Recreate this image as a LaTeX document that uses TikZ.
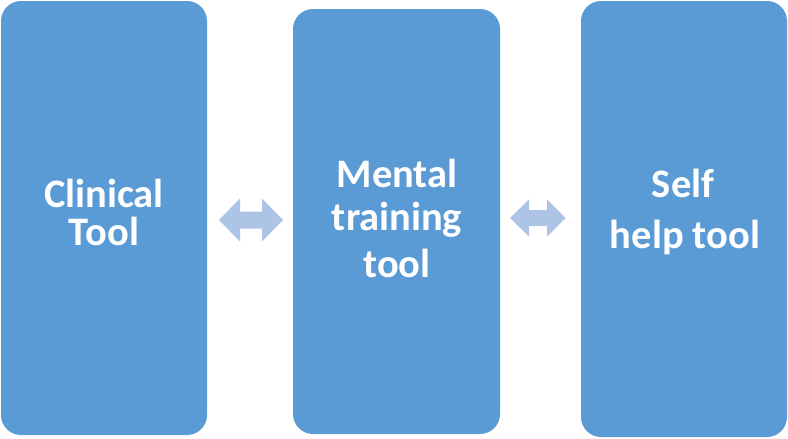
\documentclass[tikz,border=0pt]{standalone}
\usepackage{fontspec}
\setmainfont{Carlito}
\definecolor{boxblue}{HTML}{5B9BD5}
\definecolor{arrowblue}{HTML}{ADC4E6}
\begin{document}
\begin{tikzpicture}[x=1pt,y=-1pt,
  panel/.style={fill=boxblue, draw=none, rounded corners=20pt},
  lbl/.style={anchor=base, text=white, font=\fontsize{40.5}{46}\selectfont\bfseries, inner sep=0pt},
  dblarrow/.style={fill=arrowblue, draw=none}]
\useasboundingbox (0,0) rectangle (788,439);
\fill[white] (0,0) rectangle (788,439);
% boxes
\path[panel] (1,1) rectangle (207,435);
\path[panel] (293,9) rectangle (500,434);
\path[panel] (581,1) rectangle (787,437);
% labels
\node[lbl] (t1a) at (104,207) {Clinical};
\node[lbl] (t1b) at (104,245) {Tool};
\node[lbl] (t2a) at (397,187) {Mental};
\node[lbl] (t2b) at (397,230) {training};
\node[lbl] (t2c) at (397,277) {tool};
\node[lbl] (t3a) at (683,197) {Self};
\node[lbl] (t3b) at (685,248) {help tool};
% double arrows
\coordinate (a1) at (251,220);
\fill[dblarrow] (a1) ++(-32,0) -- ++(21,-21.5) -- ++(0,13) -- ++(22,0) -- ++(0,-13) -- ++(21,21.5)
  -- ++(-21,21.5) -- ++(0,-13) -- ++(-22,0) -- ++(0,13) -- cycle;
\coordinate (a2) at (537.5,218);
\fill[dblarrow] (a2) ++(-27.5,0) -- ++(19,-18.5) -- ++(0,10.5) -- ++(18,0) -- ++(0,-10.5) -- ++(18.5,18.5)
  -- ++(-18.5,18.5) -- ++(0,-10.5) -- ++(-18,0) -- ++(0,10.5) -- cycle;
\end{tikzpicture}
\end{document}
